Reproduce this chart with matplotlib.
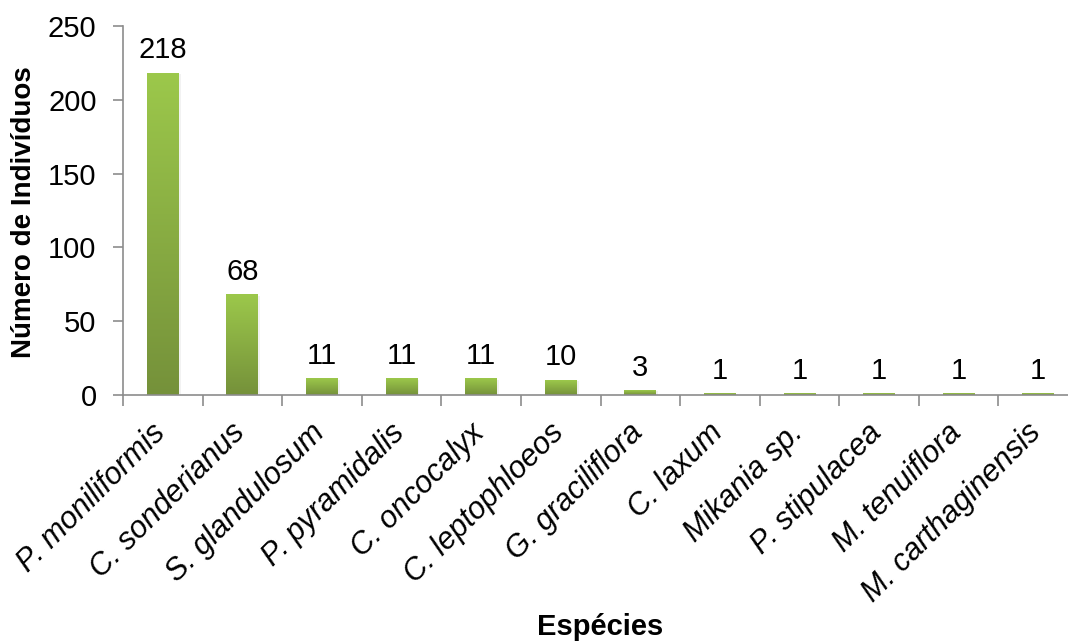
import numpy as np
import matplotlib
matplotlib.use("Agg")
import matplotlib.pyplot as plt
from matplotlib.colors import LinearSegmentedColormap
from matplotlib.transforms import blended_transform_factory, offset_copy

# espécies e número de indivíduos
especies = ["P. moniliformis", "C. sonderianus", "S. glandulosum", "P. pyramidalis",
            "C. oncocalyx", "C. leptophloeos", "G. graciliflora", "C. laxum",
            "Mikania sp.", "P. stipulacea", "M. tenuiflora", "M. carthaginensis"]
individuos = [218, 68, 11, 11, 11, 10, 3, 1, 1, 1, 1, 1]
yticks = [0, 50, 100, 150, 200, 250]

plt.rcParams["font.family"] = ["Liberation Sans", "DejaVu Sans"]

fig = plt.figure(figsize=(10.68, 6.44), dpi=100)
ax = fig.add_axes([123 / 1068, 1 - 395 / 644, 955 / 1068, 369 / 644])

x = np.arange(len(especies))
largura = 0.4

# barras com degradê (claro em cima, escuro embaixo)
cmap = LinearSegmentedColormap.from_list("verde", ["#75913a", "#9cc84b"])
grad = np.linspace(0, 1, 256).reshape(-1, 1)
barras = ax.bar(x, individuos, width=largura, color="none", edgecolor="none")
for b, v in zip(barras, individuos):
    x0 = b.get_x()
    # sombra leve
    ax.bar(x0 + largura / 2 + 0.025, v, width=largura, bottom=-0.6,
           color="#000000", alpha=0.05, zorder=1)
    ax.imshow(grad, cmap=cmap, origin="lower", aspect="auto",
              extent=(x0, x0 + largura, 0, max(v, 0.8)), zorder=2)
    ax.text(b.get_x() + largura / 2, v + 6, str(v), ha="center", va="bottom",
            fontsize=21, zorder=3)
ax.set_xlim(-0.5, len(especies) - 0.5)
ax.set_ylim(0, 250)

for lado in ["top", "right"]:
    ax.spines[lado].set_visible(False)
for lado in ["left", "bottom"]:
    ax.spines[lado].set_color("#8c8c8c")
    ax.spines[lado].set_linewidth(1.2)

ax.set_yticks(yticks)
ax.tick_params(axis="y", direction="out", length=7, width=1.2, color="#8c8c8c",
               labelsize=21, pad=12)
# marcas do eixo x entre as categorias
ax.set_xticks(np.arange(len(especies) + 1) - 0.5)
ax.set_xticklabels([])
ax.tick_params(axis="x", direction="out", length=8, width=1.2, color="#8c8c8c")

# nomes das espécies inclinados
trans = offset_copy(blended_transform_factory(ax.transData, ax.transAxes),
                    fig=fig, x=-12, y=-23, units="dots")
for xi, nome in zip(x, especies):
    ax.text(xi, 0, nome, transform=trans, rotation=45, ha="right", va="top",
            rotation_mode="anchor", fontsize=22, style="italic")

fig.text(24 / 1068, 1 - 212 / 644, "Número de Indivíduos", fontsize=20,
         fontweight="bold", rotation=90, ha="center", va="center")
fig.text(600 / 1068, 1 - 627 / 644, "Espécies", fontsize=21, fontweight="bold",
         ha="center", va="center")

fig.savefig("out.png", dpi=100)
